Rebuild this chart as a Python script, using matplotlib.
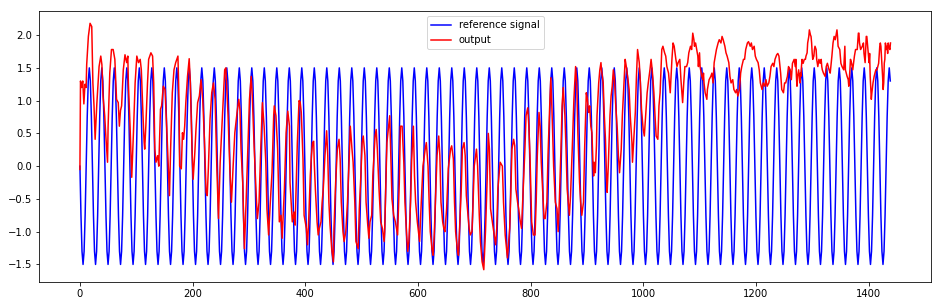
import matplotlib as mpl
mpl.use('Agg')
import numpy as np
import matplotlib.pyplot as plt

# reference signal: one period (amplitude 1.5), repeated
blue_cycle = [0.0, -0.75, -1.3, -1.5, -1.3, -0.75, 0.0, 0.75, 1.3, 1.5, 1.3, 0.75]
blue_period = 22.19
blue_last = 1439

red_t = [
    0, 1, 3, 5, 7, 9, 11, 12, 15, 18, 21, 23, 25, 27, 30, 34, 37, 39, 41, 44,
    46, 49, 50, 53, 56, 59, 62, 65, 68, 70, 72, 74, 77, 80, 83, 85, 86, 89, 92, 95,
    98, 101, 104, 107, 109, 112, 114, 115, 117, 120, 122, 126, 129, 131, 133, 135, 138, 140, 143, 145,
    148, 151, 154, 157, 159, 161, 164, 167, 170, 174,
    176, 177, 180, 182, 184, 186, 188, 191, 194, 196, 198, 199, 201, 204, 206, 209, 212, 215, 218, 221,
    224, 226, 228, 231, 234, 237, 240, 243, 246, 249, 253, 257, 259, 263, 266, 269, 272, 275, 279, 282,
    284, 286, 289, 292, 295, 298, 301, 304, 306, 309, 313, 315, 318, 321, 324, 327, 330, 332, 335, 338,
    341, 344, 345, 348, 351, 354,
    357, 359, 363, 366, 369, 372, 373, 377, 380, 382, 384, 386, 389, 391, 393, 396, 398, 402, 404, 406,
    409, 411, 413, 415, 416, 418, 421, 423, 425, 428, 430, 432, 435, 438, 440, 442, 444, 447, 450, 451,
    454, 457, 460, 462, 464, 467, 469, 472, 475, 478, 480, 483, 485, 488, 490, 494, 496, 499, 501, 503,
    506, 508, 511, 513, 515, 518, 520, 524, 526, 528, 531, 534, 537,
    540, 541, 543, 545, 548, 550, 552, 554, 557, 560, 562, 564, 567, 569, 572, 575, 577, 580, 582, 584,
    587, 589, 592, 594, 596, 599, 601, 603, 606, 609, 613, 615, 618, 620, 622, 625, 627, 629, 632, 634,
    637, 639, 641, 644, 646, 648, 651, 654, 658, 660, 663, 665, 667, 670, 672, 674, 677, 679, 682, 684,
    686, 689, 691, 693, 696, 698, 700, 704, 706, 709, 711, 714, 717, 720,
    723, 725, 727, 729, 733, 738, 740, 742, 746, 750, 752, 755, 759, 763, 765, 767, 770, 772, 774, 777,
    779, 781, 784, 786, 790, 792, 795, 797, 799, 802, 805, 808, 810, 812, 815, 817, 819, 822, 824, 826,
    829, 831, 834, 836, 838, 841, 844, 847, 849, 851, 854, 856, 858, 861, 863, 865, 869, 871, 874, 877,
    880, 882, 884, 887, 889, 891, 894, 896, 899, 901, 903,
    905, 907, 909, 910, 911, 912, 913, 915, 916, 917, 918, 921, 923, 925, 926, 929, 931, 933, 935, 936,
    938, 941, 943, 945, 947, 949, 951, 954, 956, 958, 961, 963, 966, 968, 970, 973, 975, 977, 980, 981,
    983, 986, 988, 990, 993, 995, 997, 1000, 1002, 1004, 1007, 1009, 1012, 1014, 1016, 1019, 1021, 1023, 1026, 1028,
    1030, 1033, 1035, 1038, 1040, 1042, 1045, 1047, 1048, 1051, 1053, 1055, 1058, 1060, 1062, 1065, 1067, 1070, 1072, 1074,
    1077, 1079, 1081, 1084, 1086,
    1088, 1090, 1091, 1093, 1095, 1097, 1098, 1100, 1101, 1103, 1104, 1106, 1107, 1108, 1110, 1113, 1114, 1115, 1117, 1120,
    1122, 1124, 1126, 1128, 1130, 1133, 1135, 1138, 1140, 1142, 1145, 1147, 1149, 1152, 1154, 1156, 1159, 1161, 1164, 1166,
    1168, 1171, 1173, 1175, 1178, 1180, 1182, 1185, 1187, 1190, 1192, 1194, 1197, 1199, 1201, 1204, 1206, 1208, 1211, 1213,
    1216, 1218, 1220, 1223, 1225, 1227, 1230, 1232, 1234, 1237, 1239, 1241, 1244, 1246, 1249, 1251, 1253, 1256, 1258, 1261,
    1263, 1265, 1268, 1270,
    1271, 1272, 1273, 1274, 1275, 1276, 1278, 1279, 1280, 1281, 1282, 1284, 1286, 1288, 1289, 1291, 1292, 1293, 1294, 1295,
    1297, 1298, 1299, 1300, 1301, 1303, 1304, 1305, 1307, 1308, 1310, 1311, 1312, 1314, 1316, 1317, 1318, 1320, 1323, 1325,
    1327, 1330, 1332, 1335, 1337, 1339, 1341, 1344, 1345, 1346, 1349, 1351, 1353, 1356, 1358, 1359, 1362, 1364, 1365, 1367,
    1368, 1370, 1372, 1375, 1377, 1380, 1382, 1383, 1384, 1386, 1389, 1391, 1392, 1394, 1395, 1396, 1397, 1399, 1401, 1402,
    1403, 1405, 1406, 1408, 1410, 1413, 1415, 1418, 1420, 1421, 1422, 1425, 1426, 1427, 1428, 1429, 1430, 1432, 1433, 1434,
    1435, 1436, 1438, 1439,
]
red_v = [
    -0.05, 1.3, 1.2, 1.3, 0.95, 1.25, 1.2, 1.55, 1.98, 2.18, 2.13, 1.27, 0.92, 0.41, 0.95, 1.52, 1.68, 1.55, 1.07, 0.77,
    0.46, 0.06, 0.6, 1.42, 1.78, 1.78, 1.63, 1.02, 0.97, 0.61, 0.85, 0.92, 1.47, 1.7, 1.58, 1.68, 1.27, 0.61, -0.17, 0.51,
    1.27, 1.68, 1.58, 1.63, 1.47, 0.77, 0.36, 0.26, 0.61, 1.27, 1.63, 1.73, 1.68, 1.27, 0.26, 0.06, 0.16, 0.0, 0.87, 0.92,
    1.22, 1.17, 0.61, -0.04, -0.45, 0.26, 1.12, 1.47, 1.58, 1.68,
    0.97, 0.0, -0.04, 0.51, 0.41, 0.61, 0.97, 1.37, 1.64, 1.27, 0.61, 0.26, -0.2, 0.21, 0.56, 0.97, 1.07, 1.32, 1.02, 0.41,
    -0.4, -0.45, -0.04, 0.72, 1.12, 1.27, 1.02, 0.0, -0.8, 0.06, 0.77, 1.47, 1.5, 0.77, 0.0, -0.55, 0.0, 0.51, 0.82, 1.02,
    0.87, 0.26, -0.25, -1.26, -0.55, 0.26, 1.02, 1.37, 1.07, 0.36, -0.45, -0.8, -0.55, 0.26, 0.97, 0.61, 0.06, -0.65, -1.05, -0.55,
    -0.1, 0.77, 0.92, 0.77, 0.26, -0.85,
    -0.75, -1.1, -0.35, 0.51, 0.84, 0.61, -0.25, -0.85, -0.7, -0.9, -0.25, 0.36, 1.0, 0.98, 0.82, 0.11, -0.75, -0.95, -1.2, -0.85,
    -0.14, 0.16, 0.36, 0.38, 0.06, -0.35, -0.85, -1.05, -0.95, -0.85, -0.55, -0.35, 0.16, 0.54, 0.16, -0.55, -0.9, -1.26, -1.46, -0.95,
    -0.25, 0.26, 0.41, 0.11, -0.55, -1.0, -1.15, -1.0, -0.55, 0.11, 0.61, 0.26, 0.06, -0.55, -1.15, -1.26, -0.65, -0.1, 0.36, 0.46,
    0.16, -0.55, -0.9, -1.1, -0.85, -0.75, -0.15, 0.46, 0.56, 0.26, -0.35, -0.85, -0.95,
    -1.15, -1.0, -0.35, 0.36, 0.61, 0.77, 0.16, -0.5, -0.75, -0.85, -0.95, -1.05, -0.25, 0.61, 0.61, 0.06, -0.55, -1.05, -1.3, -1.15,
    -0.55, 0.11, 0.61, -0.15, -0.55, -0.85, -1.0, -1.15, -0.55, 0.0, 0.26, 0.36, 0.0, -0.55, -1.0, -1.26, -1.36, -1.05, -0.35, 0.16,
    0.46, 0.16, -0.55, -0.85, -0.95, -1.0, -0.65, -0.04, 0.26, 0.31, 0.11, -0.55, -1.0, -1.26, -1.36, -0.95, -0.35, 0.26, 0.36, 0.16,
    -0.45, -0.75, -0.95, -1.05, -1.0, -0.55, 0.0, 0.26, 0.0, -0.75, -1.15, -1.46, -1.58, -1.0,
    -0.2, 0.5, 0.26, -0.65, -0.9, -1.2, -0.95, -0.35, 0.06, 0.0, -0.55, -1.05, -1.4, -0.95, -0.4, 0.26, 0.41, 0.31, -0.35, -0.55,
    -0.65, -0.8, -0.95, -0.55, 0.26, 0.77, 0.89, 0.61, 0.16, -0.85, -1.05, -1.05, -0.55, 0.16, 0.82, 0.61, 0.06, -0.45, -0.8, -0.8,
    -0.55, 0.16, 0.92, 1.35, 0.87, 0.0, -0.55, -0.65, -1.0, -0.55, 0.26, 0.92, 1.2, 0.77, 0.26, -0.35, -0.75, -0.45, 0.26, 1.02,
    1.52, 1.27, 0.51, -0.25, -0.55, -0.75, -0.55, 0.26, 1.12, 1.02, 0.82,
    0.92, 0.61, 0.51, 0.26, 0.0, -0.15, 0.06, -0.1, 0.11, 0.31, 0.77, 1.27, 1.47, 1.58, 1.47, 1.27, 0.77, 0.41, -0.2, -0.4,
    0.0, 0.77, 1.07, 1.22, 1.47, 1.32, 0.97, 0.56, 0.16, -0.1, 0.26, 0.77, 1.27, 1.63, 1.52, 1.32, 1.17, 0.77, 0.36, 0.06,
    0.36, 0.82, 1.37, 1.78, 1.58, 1.27, 0.87, 0.56, 0.46, 0.72, 1.12, 1.27, 1.47, 1.63, 1.47, 1.12, 0.77, 0.46, 0.41, 0.92,
    1.12, 1.78, 1.83, 1.73, 1.68, 1.52, 1.42, 1.22, 1.12, 1.63, 1.88, 1.83, 1.63, 1.52, 1.58, 1.63, 1.32, 0.97, 1.27, 1.52,
    1.52, 1.58, 1.73, 1.83, 1.78,
    2.03, 1.93, 1.83, 1.88, 1.78, 1.68, 1.52, 1.73, 1.52, 1.42, 1.37, 1.32, 1.42, 1.27, 1.12, 1.02, 1.17, 1.22, 1.32, 1.37,
    1.42, 1.27, 1.58, 1.68, 1.78, 1.88, 1.93, 1.88, 1.98, 1.93, 1.83, 1.73, 1.68, 1.58, 1.37, 1.27, 1.32, 1.17, 1.12, 1.17,
    1.07, 1.17, 1.42, 1.52, 1.63, 1.63, 1.78, 1.88, 1.9, 1.83, 1.88, 1.78, 1.83, 1.68, 1.63, 1.58, 1.47, 1.27, 1.17, 1.27,
    1.22, 1.32, 1.22, 1.27, 1.37, 1.52, 1.57, 1.52, 1.63, 1.7, 1.72, 1.68, 1.42, 1.17, 1.12, 1.27, 1.27, 1.37, 1.52, 1.47,
    1.32, 1.57, 1.63, 1.52,
    1.63, 1.37, 1.22, 1.37, 1.42, 1.47, 1.27, 1.42, 1.37, 1.52, 1.63, 1.57, 1.63, 1.63, 1.68, 1.73, 1.88, 1.93, 1.98, 2.08,
    2.0, 1.98, 1.88, 1.73, 1.63, 1.68, 1.78, 1.83, 1.78, 1.63, 1.52, 1.57, 1.63, 1.57, 1.63, 1.52, 1.47, 1.42, 1.37, 1.52,
    1.57, 1.47, 1.42, 1.68, 1.88, 1.98, 1.93, 2.08, 1.98, 1.83, 1.78, 1.57, 1.52, 1.47, 1.83, 1.47, 1.37, 1.32, 1.22, 1.47,
    1.63, 1.57, 1.47, 1.68, 1.78, 1.78, 2.03, 2.03, 1.88, 1.78, 1.83, 1.88, 1.72, 1.58, 1.78, 1.98, 1.98, 1.78, 1.58, 1.72,
    1.37, 1.02, 1.12, 1.27, 1.37, 1.47, 1.47, 1.57, 1.83, 1.88, 1.83, 1.37, 1.17, 1.27, 1.57, 1.63, 1.88, 1.78, 1.83, 1.72,
    1.88, 1.83, 1.78, 1.88,
]

step = blue_period / len(blue_cycle)
n_blue = int(blue_last / step) + 1
blue_t = np.arange(n_blue) * step
blue_v = (blue_cycle * (n_blue // len(blue_cycle) + 1))[:n_blue]

fig = plt.figure(figsize=(942 / 72, 306 / 72), dpi=72)
ax = fig.add_axes([39.4 / 942, 24 / 306, 891.6 / 942, 271 / 306])
ax.plot(blue_t, blue_v, color='b', label='reference signal')
ax.plot(red_t, red_v, color='r', label='output')
ax.legend(loc='upper center')

fig.savefig('out.png', dpi=72)
plt.close()
